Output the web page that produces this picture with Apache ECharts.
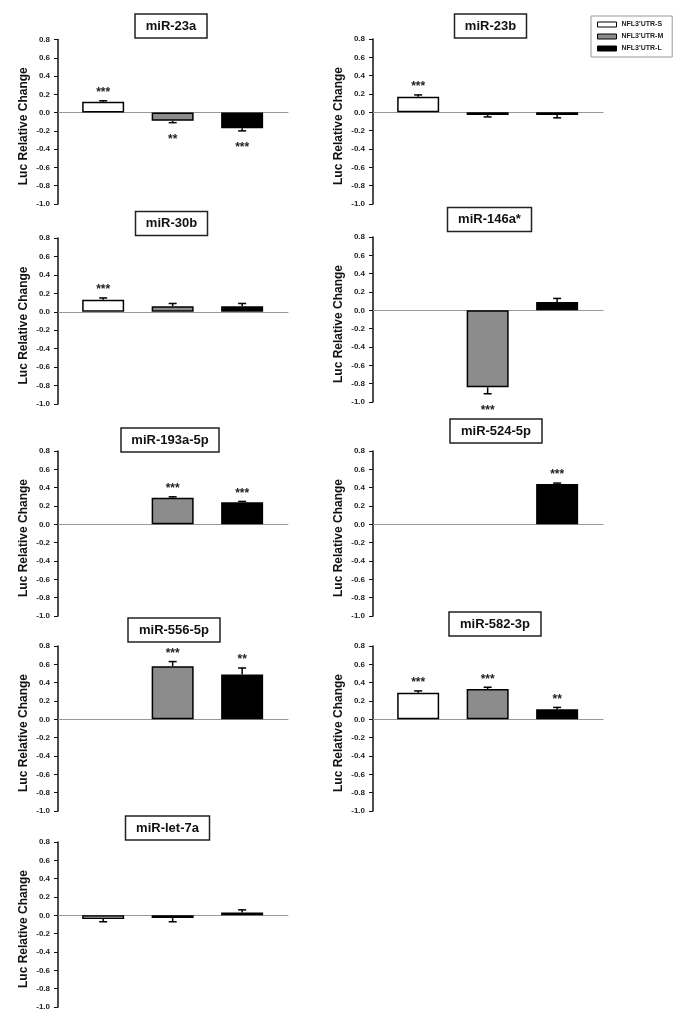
<!DOCTYPE html>
<html>
<head>
<meta charset="utf-8">
<script src="https://cdn.jsdelivr.net/npm/echarts@6/dist/echarts.min.js"></script>
<style>
html,body{margin:0;padding:0;background:#fff;}
#c{width:685px;height:1025px;}
</style>
</head>
<body>
<div id="c"></div>
<script>
// ---- data ----
const panels = ['miR-23a','miR-23b','miR-30b','miR-146a*','miR-193a-5p','miR-524-5p','miR-556-5p','miR-582-3p','miR-let-7a'];
const seriesNames = ["NFL3'UTR-S","NFL3'UTR-M","NFL3'UTR-L"];
const valS = [0.12, 0.17, 0.13, null, null, null, null, 0.29, -0.04];
const valM = [-0.09, -0.03, 0.06, -0.84, 0.29, null, 0.58, 0.33, -0.03];
const valL = [-0.17, -0.03, 0.06, 0.09, 0.24, 0.44, 0.49, 0.11, 0.03];
const errS = [0.01, 0.02, 0.02, null, null, null, null, 0.02, 0.03];
const errM = [0.02, 0.02, 0.03, 0.07, 0.01, null, 0.05, 0.02, 0.04];
const errL = [0.03, 0.03, 0.03, 0.04, 0.01, 0.01, 0.07, 0.02, 0.03];
const starS = ['***','***','***','','','','','***',''];
const starM = ['**','','','***','***','','***','***',''];
const starL = ['***','','','','***','***','**','**',''];
const yMin = -1.0, yMax = 0.8, yStep = 0.2;
const yTitle = 'Luc Relative Change';

// ---- layout (positions only) ----
const layout = [
  {ax:58,  top:39.5, bottom:204, tx:171,   ty:26},
  {ax:373, top:39,   bottom:204, tx:490.5, ty:26},
  {ax:58,  top:238,  bottom:404, tx:171.5, ty:223.5},
  {ax:373, top:237,  bottom:402, tx:489.5, ty:219.5},
  {ax:58,  top:451,  bottom:616, tx:170,   ty:440},
  {ax:373, top:451,  bottom:616, tx:496,   ty:431},
  {ax:58,  top:646,  bottom:811, tx:174,   ty:630},
  {ax:373, top:646,  bottom:811, tx:495,   ty:624},
  {ax:58,  top:842,  bottom:1007,tx:167.5, ty:828}
];
const fills = ['#ffffff', '#8c8c8c', '#000000'];
const FONT = '"Liberation Sans", Arial, sans-serif';
const TPAD = [6, 11];

const vals = [valS, valM, valL];
const errs = [errS, errM, errL];
const stars = [starS, starM, starL];

const option = {
  backgroundColor: '#fff',
  animation: false,
  title: [], grid: [], xAxis: [], yAxis: [], series: [],
  legend: {
    data: seriesNames,
    orient: 'vertical',
    left: 591, top: 16,
    padding: [5, 9, 5, 6],
    itemWidth: 19, itemHeight: 5, itemGap: 5,
    borderColor: '#999', borderWidth: 1,
    icon: 'rect',
    itemStyle: {borderColor: '#000', borderWidth: 1},
    textStyle: {fontSize: 7, fontWeight: 'bold', color: '#222', fontFamily: FONT}
  }
};

panels.forEach((name, i) => {
  const L = layout[i];
  option.title.push({
    text: name,
    left: L.tx - TPAD[1], top: L.ty - TPAD[0],
    textAlign: 'center', textVerticalAlign: 'middle',
    padding: TPAD,
    borderColor: '#222', borderWidth: 1.5,
    backgroundColor: '#fff',
    textStyle: {fontSize: 13, fontWeight: 'bold', color: '#111', fontFamily: FONT}
  });
  option.grid.push({left: L.ax, top: L.top, width: 230, height: L.bottom - L.top});
  option.xAxis.push({
    type: 'value', gridIndex: i, min: 0.35, max: 3.66,
    axisLine: {show: true, onZero: true, lineStyle: {color: '#999', width: 1}},
    axisTick: {show: false}, axisLabel: {show: false}, splitLine: {show: false}
  });
  option.yAxis.push({
    type: 'value', gridIndex: i, min: yMin, max: yMax, interval: yStep,
    name: yTitle, nameLocation: 'middle', nameGap: 28, nameRotate: 90,
    nameTextStyle: {fontSize: 12, fontWeight: 'bold', color: '#111', fontFamily: FONT, padding: [0, 9, 0, 0]},
    axisLine: {show: true, onZero: false, lineStyle: {color: '#111', width: 1.5}},
    axisTick: {show: true, length: 4, lineStyle: {color: '#111', width: 1}},
    axisLabel: {fontSize: 8, fontWeight: 'bold', color: '#222', margin: 8, fontFamily: FONT,
      formatter: v => v.toFixed(1)},
    splitLine: {show: false}
  });
  for (let k = 0; k < 3; k++) {
    const v = vals[k][i];
    option.series.push({
      type: 'bar', name: seriesNames[k],
      xAxisIndex: i, yAxisIndex: i,
      barWidth: 42, barGap: '-100%',
      itemStyle: {color: fills[k], borderColor: '#000', borderWidth: 1.5},
      data: v === null ? [] : [[k + 1, v]],
      z: 2
    });
  }
  const ebData = [], ebStars = [];
  for (let k = 0; k < 3; k++) {
    if (vals[k][i] === null) continue;
    ebData.push([k + 1, vals[k][i], errs[k][i]]);
    ebStars.push(stars[k][i]);
  }
  option.series.push({
    type: 'custom', xAxisIndex: i, yAxisIndex: i, z: 3, clip: false,
    data: ebData,
    renderItem: (params, api) => {
      const x = api.value(0), v = api.value(1), e = api.value(2);
      const dir = v >= 0 ? 1 : -1;
      const p0 = api.coord([x, v]);
      const p1 = api.coord([x, v + dir * e]);
      const st = ebStars[params.dataIndex];
      const children = [
        {type: 'line', shape: {x1: p0[0], y1: p0[1], x2: p1[0], y2: p1[1]}, style: {stroke: '#000', lineWidth: 1.5}},
        {type: 'line', shape: {x1: p1[0] - 4, y1: p1[1], x2: p1[0] + 4, y2: p1[1]}, style: {stroke: '#000', lineWidth: 1.5}}
      ];
      if (st) {
        children.push({type: 'text', style: {
          text: st, x: p1[0], y: dir > 0 ? p1[1] - 8 : p1[1] + 17,
          align: 'center', verticalAlign: 'middle',
          font: 'bold 12px ' + FONT, fill: '#222'
        }});
      }
      return {type: 'group', children};
    }
  });
});

const chart = echarts.init(document.getElementById('c'));
chart.setOption(option);
</script>
</body>
</html>
